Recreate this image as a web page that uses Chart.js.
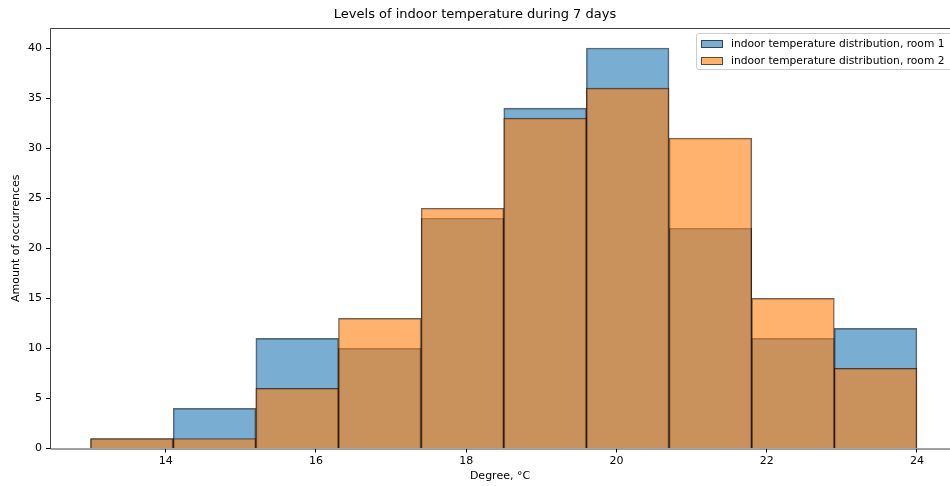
<!DOCTYPE html>
<html>
<head>
<meta charset="utf-8">
<script src="https://cdn.jsdelivr.net/npm/chart.js@4.4.1/dist/chart.umd.min.js"></script>
<style>
  html, body { margin: 0; padding: 0; background: #fff; }
  #wrap { position: relative; width: 950px; height: 486px; overflow: hidden; }
  #legend {
    position: absolute; left: 696px; top: 33px; width: 270px; height: 35px;
    background: rgba(255,255,255,0.8); border: 1px solid #ccc; border-radius: 3px;
    font-family: "DejaVu Sans", sans-serif; font-size: 10.7px; color: #000;
  }
  #legend .row { position: absolute; left: 4px; height: 13px; line-height: 13px; white-space: nowrap; }
  #legend .patch { display: inline-block; width: 22px; height: 8px; vertical-align: middle; margin-right: 8px; box-sizing: border-box; border: 1px solid rgba(0,0,0,0.6); }
</style>
</head>
<body>
<div id="wrap">
  <canvas id="hist" width="950" height="486"></canvas>
  <div id="legend"></div>
</div>
<script>
  // datos del histograma
  const binEdges = [13, 14.1, 15.2, 16.3, 17.4, 18.5, 19.6, 20.7, 21.8, 22.9, 24];
  const room1 = [1, 4, 11, 10, 23, 34, 40, 22, 11, 12];
  const room2 = [1, 1, 6, 13, 24, 33, 36, 31, 15, 8];
  const seriesNames = ['indoor temperature distribution, room 1', 'indoor temperature distribution, room 2'];
  const xTicks = [14, 16, 18, 20, 22, 24];
  const yTicks = [0, 5, 10, 15, 20, 25, 30, 35, 40];

  const colors = ['rgba(31,119,180,0.6)', 'rgba(255,127,14,0.6)'];
  const edge = 'rgba(0,0,0,0.6)';

  const centers = binEdges.slice(0, -1).map((e, i) => (e + binEdges[i + 1]) / 2);
  const toPoints = vals => vals.map((v, i) => ({ x: centers[i], y: v }));

  // marco de ejes (arriba, izquierda, abajo)
  const frame = {
    id: 'frame',
    afterDatasetsDraw(chart) {
      const { ctx, chartArea: a } = chart;
      ctx.save();
      ctx.strokeStyle = 'rgba(0,0,0,0.75)';
      ctx.lineWidth = 1;
      ctx.beginPath();
      ctx.moveTo(a.right + 5, a.top + 0.5);
      ctx.lineTo(a.left + 0.5, a.top + 0.5);
      ctx.lineTo(a.left + 0.5, a.bottom + 0.5);
      ctx.lineTo(a.right + 5, a.bottom + 0.5);
      ctx.stroke();
      ctx.restore();
    }
  };

  Chart.defaults.font.family = '"DejaVu Sans", sans-serif';
  Chart.defaults.color = '#000';

  const chart = new Chart(document.getElementById('hist'), {
    type: 'bar',
    data: {
      datasets: [
        { label: seriesNames[0], data: toPoints(room1), backgroundColor: colors[0], borderColor: edge, borderWidth: 1, order: 2 },
        { label: seriesNames[1], data: toPoints(room2), backgroundColor: colors[1], borderColor: edge, borderWidth: 1, order: 1 }
      ]
    },
    options: {
      responsive: false,
      animation: false,
      layout: { padding: 0 },
      datasets: { bar: { grouped: false, barPercentage: 1, categoryPercentage: 1 } },
      plugins: {
        legend: { display: false },
        tooltip: { enabled: false },
        title: {
          display: true,
          text: 'Levels of indoor temperature during 7 days',
          font: { size: 13, weight: 'normal' },
          color: '#000',
          padding: { top: 7, bottom: 5.4 }
        }
      },
      scales: {
        x: {
          type: 'linear',
          offset: false,
          min: 12.46,
          max: 24.44,
          afterBuildTicks(s) { s.ticks = xTicks.map(v => ({ value: v })); },
          ticks: { autoSkip: false, font: { size: 11 }, padding: 2, maxRotation: 0 },
          grid: { offset: false, drawOnChartArea: false, drawTicks: true, tickLength: 4, color: '#000' },
          border: { display: false },
          title: { display: true, text: 'Degree, °C', font: { size: 11 }, padding: { top: 0, bottom: 3 } },
          afterFit(s) { s.height = 37.5; }
        },
        y: {
          min: 0,
          max: 42,
          afterBuildTicks(s) { s.ticks = yTicks.map(v => ({ value: v })); },
          ticks: { autoSkip: false, font: { size: 11 }, padding: 4 },
          grid: { offset: false, drawOnChartArea: false, drawTicks: true, tickLength: 4, color: '#000' },
          border: { display: false },
          title: { display: true, text: 'Amount of occurrences', font: { size: 11 }, padding: { top: 10, bottom: 0 } },
          afterFit(s) { s.width = 50; }
        }
      }
    },
    plugins: [frame]
  });

  // leyenda dentro del área del gráfico
  const legend = document.getElementById('legend');
  seriesNames.forEach((name, i) => {
    const row = document.createElement('div');
    row.className = 'row';
    row.style.top = (3 + i * 17) + 'px';
    row.innerHTML = '<span class="patch" style="background:' + colors[i] + '"></span>' + name;
    legend.appendChild(row);
  });
</script>
</body>
</html>
